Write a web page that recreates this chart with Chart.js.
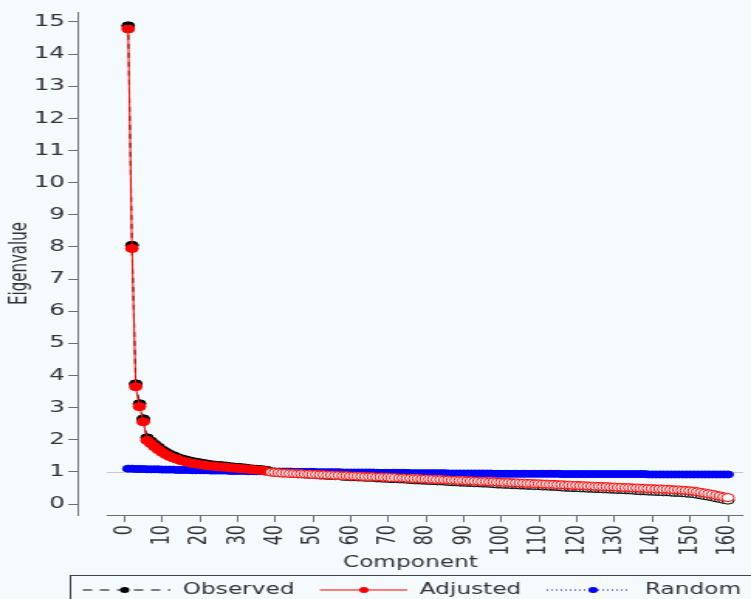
<!DOCTYPE html>
<html>
<head>
<meta charset="utf-8">
<script src="https://cdn.jsdelivr.net/npm/chart.js@4/dist/chart.umd.min.js"></script>
<style>
  html, body { margin: 0; padding: 0; background: #f5fafd; overflow: hidden; }
  /* the reference is stretched sideways, so the chart is drawn narrow and widened */
  #wrap { width: 485px; height: 599px; transform: scaleX(1.5485); transform-origin: 0 0; }
</style>
</head>
<body>
<div id="wrap"><canvas id="scree"></canvas></div>
<script>
/* Parallel analysis scree plot (Chart.js) */

const observed = [
  14.88, 8.05, 3.74, 3.12, 2.65, 2.06, 1.96, 1.86, 1.77, 1.68,
  1.61, 1.55, 1.50, 1.45, 1.41, 1.38, 1.35, 1.32, 1.30, 1.28,
  1.26, 1.24, 1.22, 1.21, 1.20, 1.19, 1.18, 1.16, 1.15, 1.14,
  1.13, 1.12, 1.10, 1.09, 1.08, 1.07, 1.06, 1.04, 1.00, 0.99,
  0.98, 0.97, 0.97, 0.96, 0.95, 0.94, 0.94, 0.93, 0.93, 0.92,
  0.91, 0.90, 0.90, 0.89, 0.89, 0.88, 0.88, 0.86, 0.86, 0.85,
  0.85, 0.84, 0.84, 0.83, 0.83, 0.83, 0.81, 0.81, 0.80, 0.80,
  0.79, 0.79, 0.78, 0.78, 0.77, 0.76, 0.75, 0.75, 0.74, 0.74,
  0.73, 0.73, 0.72, 0.72, 0.71, 0.70, 0.69, 0.69, 0.68, 0.68,
  0.67, 0.67, 0.66, 0.66, 0.65, 0.65, 0.64, 0.63, 0.62, 0.62,
  0.61, 0.61, 0.60, 0.60, 0.59, 0.59, 0.58, 0.58, 0.57, 0.57,
  0.56, 0.56, 0.55, 0.55, 0.54, 0.53, 0.52, 0.52, 0.51, 0.51,
  0.50, 0.50, 0.49, 0.49, 0.48, 0.48, 0.47, 0.47, 0.46, 0.46,
  0.45, 0.45, 0.44, 0.44, 0.43, 0.42, 0.41, 0.41, 0.40, 0.40,
  0.39, 0.39, 0.38, 0.38, 0.37, 0.36, 0.36, 0.35, 0.34, 0.33,
  0.32, 0.30, 0.28, 0.26, 0.24, 0.22, 0.19, 0.17, 0.14, 0.12
];

const adjusted = [
  14.78, 7.95, 3.65, 3.03, 2.56, 1.98, 1.88, 1.78, 1.69, 1.61,
  1.54, 1.48, 1.43, 1.39, 1.35, 1.32, 1.29, 1.27, 1.25, 1.23,
  1.21, 1.19, 1.18, 1.17, 1.16, 1.15, 1.14, 1.13, 1.12, 1.11,
  1.10, 1.09, 1.08, 1.07, 1.06, 1.05, 1.04, 1.01, 0.99, 0.98,
  0.97, 0.96, 0.96, 0.95, 0.95, 0.94, 0.94, 0.93, 0.93, 0.92,
  0.92, 0.91, 0.91, 0.90, 0.90, 0.89, 0.89, 0.88, 0.88, 0.87,
  0.87, 0.86, 0.86, 0.85, 0.85, 0.85, 0.84, 0.84, 0.83, 0.83,
  0.82, 0.82, 0.81, 0.81, 0.80, 0.80, 0.79, 0.79, 0.78, 0.78,
  0.77, 0.77, 0.76, 0.76, 0.75, 0.75, 0.74, 0.74, 0.73, 0.73,
  0.72, 0.72, 0.71, 0.71, 0.70, 0.70, 0.69, 0.69, 0.68, 0.68,
  0.67, 0.67, 0.66, 0.66, 0.65, 0.65, 0.64, 0.64, 0.63, 0.63,
  0.62, 0.62, 0.61, 0.61, 0.60, 0.60, 0.59, 0.59, 0.58, 0.58,
  0.57, 0.57, 0.56, 0.56, 0.55, 0.55, 0.54, 0.54, 0.53, 0.53,
  0.52, 0.52, 0.51, 0.51, 0.50, 0.50, 0.49, 0.49, 0.48, 0.48,
  0.47, 0.47, 0.46, 0.46, 0.45, 0.44, 0.44, 0.43, 0.42, 0.41,
  0.40, 0.38, 0.36, 0.34, 0.32, 0.30, 0.27, 0.25, 0.22, 0.20
];

const random = [
  1.10, 1.10, 1.09, 1.09, 1.09, 1.08, 1.08, 1.08, 1.08, 1.07,
  1.07, 1.07, 1.07, 1.06, 1.06, 1.06, 1.06, 1.05, 1.05, 1.05,
  1.05, 1.05, 1.04, 1.04, 1.04, 1.04, 1.04, 1.03, 1.03, 1.03,
  1.03, 1.03, 1.02, 1.02, 1.02, 1.02, 1.02, 1.02, 1.01, 1.01,
  1.01, 1.01, 1.01, 1.01, 1.00, 1.00, 1.00, 1.00, 1.00, 1.00,
  0.99, 0.99, 0.99, 0.99, 0.99, 0.99, 0.99, 0.98, 0.98, 0.98,
  0.98, 0.98, 0.98, 0.98, 0.98, 0.98, 0.97, 0.97, 0.97, 0.97,
  0.97, 0.97, 0.97, 0.97, 0.97, 0.96, 0.96, 0.96, 0.96, 0.96,
  0.96, 0.96, 0.96, 0.96, 0.96, 0.95, 0.95, 0.95, 0.95, 0.95,
  0.95, 0.95, 0.95, 0.95, 0.95, 0.95, 0.95, 0.94, 0.94, 0.94,
  0.94, 0.94, 0.94, 0.94, 0.94, 0.94, 0.94, 0.94, 0.94, 0.94,
  0.94, 0.94, 0.94, 0.94, 0.94, 0.93, 0.93, 0.93, 0.93, 0.93,
  0.93, 0.93, 0.93, 0.93, 0.93, 0.93, 0.93, 0.93, 0.93, 0.93,
  0.93, 0.93, 0.93, 0.93, 0.93, 0.93, 0.93, 0.93, 0.92, 0.92,
  0.92, 0.92, 0.92, 0.92, 0.92, 0.92, 0.92, 0.92, 0.92, 0.92,
  0.92, 0.92, 0.92, 0.92, 0.92, 0.92, 0.92, 0.92, 0.92, 0.92
];

const components = adjusted.map((_, i) => i + 1);
const xTicks = [0, 10, 20, 30, 40, 50, 60, 70, 80, 90, 100, 110, 120, 130, 140, 150, 160];
const yTicks = [0, 1, 2, 3, 4, 5, 6, 7, 8, 9, 10, 11, 12, 13, 14, 15];
const seriesNames = ['Observed', 'Adjusted', 'Random'];

const BLACK = '#000000';
const RED   = '#ff0000';
const BLUE  = '#0000ff';
const AXIS  = '#6e6e6e';
const TEXT  = '#333333';
const REF   = '#c8c8c8';
const FONT  = 'DejaVu Sans';

Chart.defaults.font.family = FONT;
Chart.defaults.color = TEXT;

const pts = vals => components.map((c, i) => ({ x: c, y: vals[i] }));
// retained components (adjusted > 1) get filled dots, the rest open ones
const fillFor = colour => ctx => adjusted[ctx.dataIndex] > 1 ? colour : '#ffffff';

/* ── frame bits R draws outside the usual Chart.js axes ─────────── */
const AXIS_START = -4.7;
const frame = {
  id: 'frame',
  beforeDatasetsDraw(chart) {
    const { ctx, chartArea, scales: { x, y } } = chart;
    ctx.save();
    ctx.strokeStyle = REF; ctx.lineWidth = 1;
    const yy = Math.round(y.getPixelForValue(1)) + 0.5;
    ctx.beginPath(); ctx.moveTo(x.getPixelForValue(AXIS_START), yy); ctx.lineTo(chartArea.right, yy); ctx.stroke();
    ctx.restore();
  },
  afterDraw(chart) {
    const { ctx, chartArea, scales: { x } } = chart;
    ctx.save();
    ctx.strokeStyle = AXIS; ctx.lineWidth = 1;
    const yy = chartArea.bottom + 0.5;
    ctx.beginPath(); ctx.moveTo(x.getPixelForValue(AXIS_START), yy); ctx.lineTo(chartArea.right, yy); ctx.stroke();

    // legend box, cut by the edge of the picture like the original
    ctx.strokeStyle = '#444'; ctx.lineWidth = 1;
    ctx.strokeRect(45.5, 575.5, 460, 40);
    const items = [
      { x0: 53.5, x1: 110, dot: 80.5, tx: 118, dash: [6, 5] },
      { x0: 206.5, x1: 263, dot: 235, tx: 271, dash: [] },
      { x0: 353, x1: 405.5, dot: 383, tx: 416.5, dash: [1, 2] }
    ];
    const ly = 590;
    chart.data.datasets.forEach((ds, i) => {
      const it = items[i];
      ctx.strokeStyle = ds.borderColor; ctx.fillStyle = ds.borderColor;
      ctx.setLineDash(it.dash);
      ctx.beginPath(); ctx.moveTo(it.x0, ly); ctx.lineTo(it.x1, ly); ctx.stroke();
      ctx.setLineDash([]);
      ctx.beginPath(); ctx.arc(it.dot, ly, 3, 0, Math.PI * 2); ctx.fill();
      ctx.fillStyle = TEXT; ctx.font = '15px ' + FONT; ctx.textBaseline = 'middle';
      ctx.fillText(ds.label, it.tx, ly);
    });
    ctx.restore();
  }
};

new Chart(document.getElementById('scree'), {
  type: 'line',
  data: {
    datasets: [
      {
        label: seriesNames[0], data: pts(observed), order: 1,
        borderColor: BLACK, borderWidth: 1, borderDash: [5, 4],
        pointRadius: 4, pointBorderWidth: 1, pointBorderColor: BLACK,
        pointBackgroundColor: fillFor(BLACK)
      },
      {
        label: seriesNames[1], data: pts(adjusted), order: 0,
        borderColor: RED, borderWidth: 1,
        pointRadius: 4, pointBorderWidth: 1, pointBorderColor: RED,
        pointBackgroundColor: fillFor(RED)
      },
      {
        label: seriesNames[2], data: pts(random), order: 2,
        borderColor: BLUE, borderWidth: 1, borderDash: [1, 3],
        pointRadius: 3.5, pointBorderWidth: 1, pointBorderColor: BLUE,
        pointBackgroundColor: BLUE
      }
    ]
  },
  options: {
    responsive: true, maintainAspectRatio: false, animation: false,
    layout: { padding: { top: 12, left: 0, right: 0, bottom: 0 } },
    plugins: { legend: { display: false }, tooltip: { enabled: false } },
    scales: {
      x: {
        type: 'linear', min: -12.46, max: 164.1,
        afterBuildTicks: s => { s.ticks = xTicks.map(v => ({ value: v })); },
        afterFit: s => { s.height = 84; s.paddingLeft = 0; s.paddingRight = 0; },
        grid: { drawOnChartArea: false, tickLength: 7, tickColor: AXIS },
        border: { display: false },
        ticks: { autoSkip: false, minRotation: 90, maxRotation: 90, padding: 3, color: TEXT, font: { size: 16 } },
        title: { display: true, text: 'Component', color: TEXT, font: { size: 15 }, padding: { top: 0, bottom: 27 } }
      },
      y: {
        min: -0.342, max: 15.31,
        afterBuildTicks: s => { s.ticks = yTicks.map(v => ({ value: v })); },
        afterFit: s => { s.width = 50; s.paddingTop = 0; s.paddingBottom = 0; },
        grid: { drawOnChartArea: false, tickLength: 6, tickColor: AXIS },
        border: { display: true, color: AXIS },
        ticks: { padding: 2, color: TEXT, font: { size: 16 } },
        title: { display: true, text: 'Eigenvalue', color: TEXT, font: { size: 15 }, padding: { top: 4, bottom: 0 } }
      }
    }
  },
  plugins: [frame]
});
</script>
</body>
</html>
